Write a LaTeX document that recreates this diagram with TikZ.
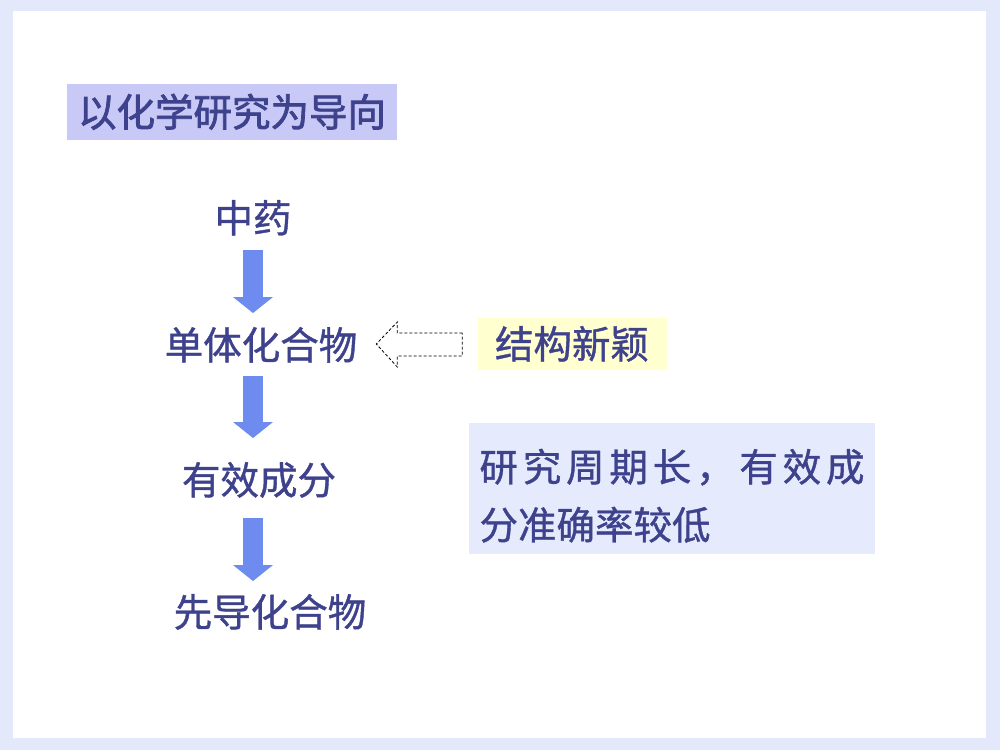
\documentclass[tikz,border=0pt]{standalone}
\usepackage{fontspec}
\newfontfamily\cjk{Noto Sans CJK SC}[FakeBold=1]
\newfontfamily\cjkbold{Noto Sans CJK SC}[FakeBold=2]
\usetikzlibrary{
    arrows.meta,
    calc,
    positioning
}
\definecolor{framebg}{RGB}{227,232,250}
\definecolor{ink}{RGB}{62,66,140}
\definecolor{titlefill}{RGB}{201,201,247}
\definecolor{notefill}{RGB}{255,255,208}
\definecolor{boxfill}{RGB}{229,235,252}
\definecolor{arrowblue}{RGB}{110,140,240}

\tikzset{
    lbl/.style={text height=32pt, text depth=3pt},
    blockarrow/.style={arrowblue, line width=20pt, -{Triangle[width=40pt, length=16pt, line width=0pt]}},
    hollow/.style={draw=black, line width=0.8pt, dash pattern=on 3pt off 2pt}
}

\begin{document}
\begin{tikzpicture}[x=1pt, y=-1pt, every node/.style={font=\cjk\fontsize{38.5}{58}\selectfont, text=ink, inner sep=0pt}]
    \useasboundingbox (0, 0) rectangle (1000, 750);
    \fill[framebg] (0, 0) rectangle (1000, 750);
    \fill[white] (13, 11) rectangle (986, 738);

    % title
    \node[lbl, fill=titlefill, minimum width=330pt, minimum height=56pt, font=\cjkbold\fontsize{38.5}{44}\selectfont] (title) at (232, 112) {以化学研究为导向};

    % main chain
    \node[lbl] (zy) at (253, 218) {中药};
    \node[lbl] (dt) at (261, 345) {单体化合物};
    \node[lbl] (yx) at (259, 480) {有效成分};
    \node[lbl] (xd) at (270, 612) {先导化合物};

    \draw[blockarrow, shorten <=32pt, shorten >=32pt] (zy.center) -- (zy |- dt);
    \draw[blockarrow, shorten <=31pt, shorten >=42pt] (zy |- dt) -- (zy |- yx);
    \draw[blockarrow, shorten <=38pt, shorten >=31pt] (zy |- yx) -- (zy |- xd);

    % side notes
    \node[lbl, fill=notefill, minimum width=189pt, minimum height=52pt] (jg) at (572, 344) {结构新颖};
    \node[fill=boxfill, minimum width=406pt, minimum height=131pt, text width=385pt, align=left] (rb) at (672, 488)
        {\rule{0pt}{48pt}\makebox[385pt][s]{研\hfill 究\hfill 周\hfill 期\hfill 长\hfill ，\hfill 有\hfill 效\hfill 成}\\分准确率较低};

    % dashed hollow arrow
    \coordinate (hb) at ($(jg.west)+(-15, 0)$);
    \draw[hollow] (hb) ++(0, -11) -- ++(-65, 0) -- ++(0, -11) -- ++(-21, 22) -- ++(21, 23) -- ++(0, -11) -- ++(65, 0) -- cycle;
\end{tikzpicture}
\end{document}
